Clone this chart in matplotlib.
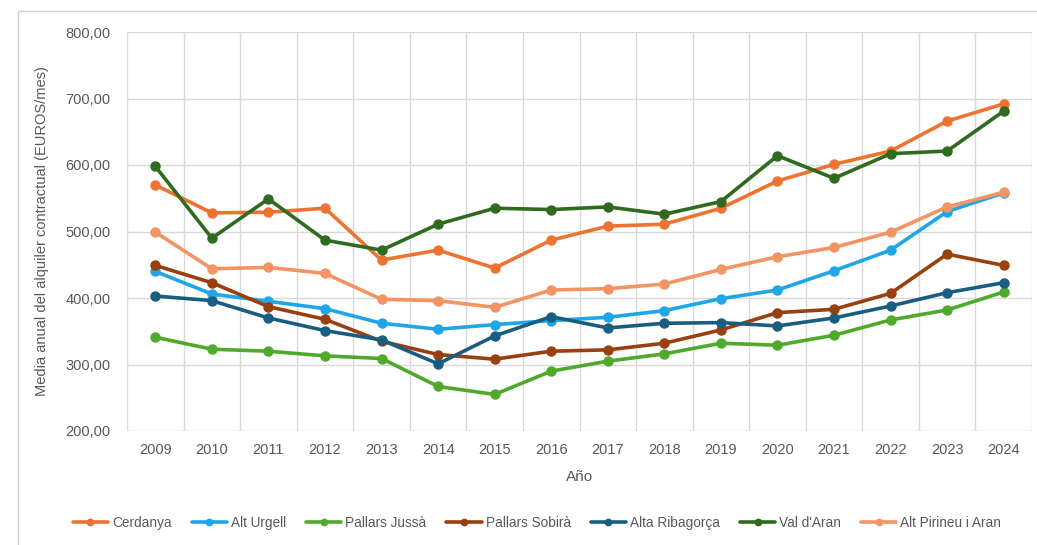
import matplotlib

matplotlib.use("Agg")
import matplotlib.pyplot as plt
from matplotlib.ticker import FuncFormatter
from matplotlib.patches import Rectangle

years = list(range(2009, 2025))

cerdanya = [570, 528, 529, 535, 457, 472, 445, 487, 508, 511, 535, 576, 601, 621, 666, 692]
alt_urgell = [440, 406, 395, 384, 362, 353, 360, 366, 371, 381, 399, 412, 441, 472, 530, 558]
pallars_jussa = [341, 323, 320, 313, 309, 267, 255, 290, 305, 316, 332, 329, 344, 367, 382, 409]
pallars_sobira = [449, 423, 387, 368, 335, 315, 308, 320, 322, 332, 352, 378, 383, 407, 466, 449]
alta_ribagorca = [403, 396, 370, 351, 337, 301, 343, 372, 355, 362, 363, 358, 370, 388, 408, 423]
val_aran = [598, 490, 549, 487, 472, 511, 535, 533, 537, 526, 545, 614, 580, 617, 621, 681]
alt_pirineu = [499, 444, 446, 437, 398, 396, 386, 412, 414, 421, 443, 462, 476, 499, 537, 559]

series = [
    ("Cerdanya", cerdanya, "#EE7330"),
    ("Alt Urgell", alt_urgell, "#1EA6E6"),
    ("Pallars Jussà", pallars_jussa, "#4FAA2C"),
    ("Pallars Sobirà", pallars_sobira, "#9A3F10"),
    ("Alta Ribagorça", alta_ribagorca, "#195E80"),
    ("Val d'Aran", val_aran, "#2F6A1F"),
    ("Alt Pirineu i Aran", alt_pirineu, "#F39465"),
]

plt.rcParams["font.family"] = ["Liberation Sans", "DejaVu Sans"]
TXT = "#595959"
GRID = "#D9D9D9"

fig = plt.figure(figsize=(10.37, 5.45), dpi=100)
ax = fig.add_axes([127 / 1037, 1 - 431 / 545, 905 / 1037, 399 / 545])

x = list(range(len(years)))
for name, vals, col in series:
    ax.plot(x, vals, color=col, lw=2.6, marker="o", ms=6.5, label=name,
            solid_capstyle="round", zorder=3)

ax.set_xlim(-0.5, len(years) - 0.5)
ax.set_ylim(200, 800)
ax.set_yticks(range(200, 801, 100))
ax.yaxis.set_major_formatter(FuncFormatter(lambda v, _: f"{v:.2f}".replace(".", ",")))
ax.set_xticks(x)
ax.set_xticklabels([str(y) for y in years])
ax.set_xticks([i + 0.5 for i in range(-1, len(years))], minor=True)
ax.grid(axis="y", which="major", color=GRID, lw=1, zorder=0)
ax.grid(axis="x", which="minor", color=GRID, lw=1, zorder=0)
ax.tick_params(which="both", length=0, colors=TXT, labelsize=10.5)
ax.tick_params(axis="x", pad=9)
ax.tick_params(axis="y", pad=12)
for s in ax.spines.values():
    s.set_visible(False)

ax.set_xlabel("Año", fontsize=11, color=TXT, labelpad=9)
ax.set_ylabel("Media anual del alquiler contractual (EUROS/mes)", fontsize=10.5,
              color=TXT, labelpad=12)

fig.legend(loc="center", bbox_to_anchor=(537 / 1037, 1 - 523 / 545), ncol=7,
           frameon=False, fontsize=9.8, handlelength=2.6, columnspacing=1.45,
           handletextpad=0.3, markerscale=0.7, labelcolor=TXT)

fig.patches.append(Rectangle((18 / 1037, -0.1), 1.2, 1.1 - 11 / 545,
                             transform=fig.transFigure, fill=False,
                             edgecolor="#D0D0D0", lw=1))

fig.savefig("out.png", dpi=100)
